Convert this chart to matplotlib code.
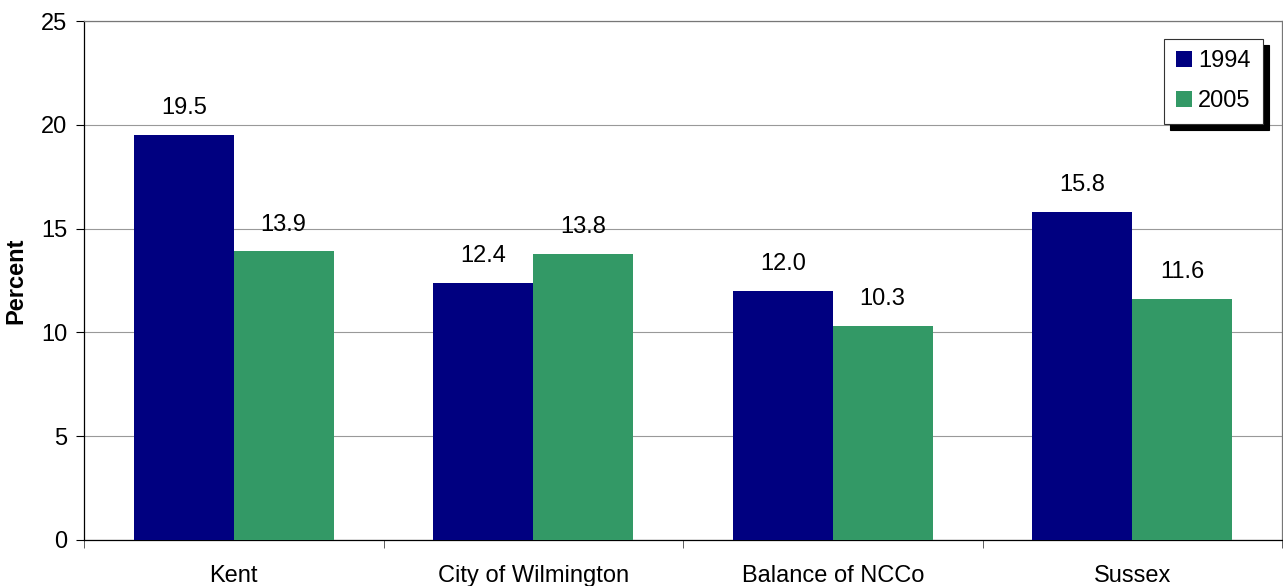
import matplotlib.pyplot as plt
import numpy as np

plt.rcParams['font.family'] = ['Liberation Sans', 'DejaVu Sans']

# Daten
kategorien = ['Kent', 'City of Wilmington', 'Balance of NCCo', 'Sussex']
werte_1994 = [19.5, 12.4, 12.0, 15.8]
werte_2005 = [13.9, 13.8, 10.3, 11.6]
jahre = ['1994', '2005']

farbe_1994 = '#000080'
farbe_2005 = '#339966'
schrift = 17

fig = plt.figure(figsize=(12.83, 5.86), dpi=100)
ax = fig.add_axes([84 / 1283, 46 / 586, 1198 / 1283, 519 / 586])

x = np.arange(len(kategorien))
breite = 1 / 3

balken1 = ax.bar(x - breite / 2, werte_1994, breite, color=farbe_1994, label=jahre[0], zorder=3)
balken2 = ax.bar(x + breite / 2, werte_2005, breite, color=farbe_2005, label=jahre[1], zorder=3)

# Werte über den Balken
for balken, werte in [(balken1, werte_1994), (balken2, werte_2005)]:
    for b, w in zip(balken, werte):
        ax.annotate(f'{w:.1f}', (b.get_x() + b.get_width() / 2, w),
                    xytext=(0, 15), textcoords='offset points',
                    ha='center', va='baseline', fontsize=schrift)

ax.set_xlim(-0.5, len(kategorien) - 0.5)
ax.set_ylim(0, 25)
ax.set_yticks(np.arange(0, 26, 5))
ax.set_xticks(x)
ax.set_xticklabels(kategorien, fontsize=schrift)
ax.set_xticks(np.arange(-0.5, len(kategorien)), minor=True)
ax.tick_params(axis='x', which='major', length=0, pad=18)
ax.tick_params(axis='x', which='minor', length=6, direction='out', color='#444444')
ax.tick_params(axis='y', labelsize=schrift, length=6, direction='out', pad=6)

ax.grid(axis='y', color='#999999', linewidth=0.8, zorder=0)
ax.spines['left'].set_color('black')
ax.spines['bottom'].set_color('black')
ax.spines['top'].set_color('#777777')
ax.spines['right'].set_color('#777777')
for s in ax.spines.values():
    s.set_linewidth(0.9)

ax.set_ylabel('Percent', fontsize=schrift, fontweight='bold', labelpad=10)

leg = ax.legend(loc='upper right', bbox_to_anchor=(1.0015, 1.007), fontsize=schrift,
                handlelength=0.7, handleheight=0.7, handletextpad=0.25,
                labelspacing=0.75, borderpad=0.5, borderaxespad=0.9, fancybox=False,
                shadow={'color': 'black', 'alpha': 1, 'ox': 4.3, 'oy': -4.3})
leg.get_frame().set_edgecolor('#333333')
leg.get_frame().set_linewidth(0.8)

fig.savefig('out.png', dpi=100)
